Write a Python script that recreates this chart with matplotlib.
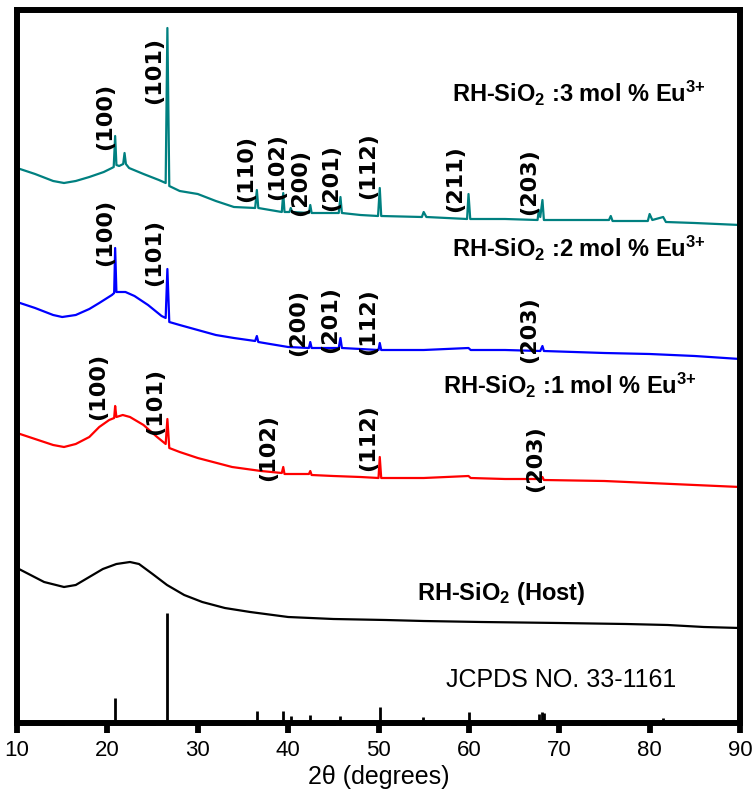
import matplotlib
matplotlib.use("Agg")
import matplotlib.pyplot as plt

plt.rcParams['mathtext.fontset'] = 'custom'
plt.rcParams['mathtext.rm'] = 'Liberation Sans'
plt.rcParams['mathtext.bf'] = 'Liberation Sans:bold'
plt.rcParams['mathtext.it'] = 'Liberation Sans:italic'

# ---------------- data (2theta in degrees, intensity in a.u., stacked) ----------------
eu3_x = [10.0, 12.0, 14.0, 15.2, 16.5, 18.0, 19.6, 20.5, 20.7, 20.86, 21.0, 21.3, 21.75, 21.9, 22.05,
         22.4, 24.0, 25.7, 26.45, 26.64, 26.85, 28.0, 30.0, 32.0, 34.0, 36.35, 36.54, 36.7, 38.0,
         39.3, 39.46, 39.6, 40.15, 40.29, 40.45, 42.3, 42.45, 42.6, 45.6, 45.79, 45.95, 48.0,
         49.95, 50.14, 50.3, 54.8, 55.0, 55.3, 59.8, 59.96, 60.15, 64.0, 67.6, 67.74, 67.9, 68.14,
         68.3, 73.0, 75.5, 75.7, 75.9, 79.8, 80.0, 80.3, 81.5, 81.8, 85.0, 90.0]
eu3_y = [552, 546, 539, 537, 539, 543, 548, 552, 553, 584, 555, 554, 556, 567, 556,
         552, 546, 540, 537, 692, 534, 529, 526, 519, 513, 512, 530, 512, 510,
         508, 527, 508, 508, 512, 508, 507, 515, 507, 507, 523, 507, 505,
         504, 532, 504, 503, 508, 503, 501, 526, 501, 501, 500, 510, 503, 520,
         500, 500, 500, 504, 499, 499, 506, 500, 503, 498, 497, 495]

eu2_x = [10.0, 12.0, 14.0, 15.0, 16.5, 18.0, 19.1, 20.5, 20.75, 20.86, 21.0, 21.5, 22.0, 23.0,
         24.5, 26.0, 26.45, 26.64, 26.85, 28.0, 30.0, 32.0, 34.0, 36.35, 36.54, 36.7, 38.0, 40.0,
         42.3, 42.45, 42.6, 45.6, 45.79, 45.95, 48.0, 50.0, 50.14, 50.3, 55.0, 59.96, 60.2,
         64.0, 67.9, 68.14, 68.3, 75.0, 80.0, 85.0, 90.0]
eu2_y = [418, 412, 405, 403, 405, 411, 417, 425, 427, 472, 428, 428, 428, 424,
         415, 404, 402, 451, 398, 395, 390, 385, 382, 379, 384, 378, 376, 373,
         372, 378, 372, 372, 382, 372, 371, 370, 377, 370, 370, 372, 370,
         370, 369, 374, 369, 367, 366, 364, 361]

eu1_x = [10.0, 12.0, 14.0, 15.2, 16.5, 18.0, 19.1, 20.2, 20.75, 20.86, 21.0, 21.7, 22.5, 24.0,
         25.5, 26.45, 26.64, 26.85, 28.0, 30.0, 33.8, 37.0, 39.3, 39.46, 39.6, 42.3, 42.45, 42.6,
         45.0, 48.0, 50.0, 50.14, 50.3, 55.0, 59.96, 60.2, 64.0, 68.0, 68.14, 68.3, 75.0, 80.0,
         85.0, 90.0]
eu1_y = [287, 281, 275, 273, 276, 283, 293, 300, 302, 314, 303, 305, 303, 295,
         283, 276, 301, 272, 268, 262, 253, 249, 247, 253, 246, 246, 249, 245,
         244, 243, 242, 263, 242, 242, 244, 242, 241, 241, 243, 240, 239, 237,
         235, 233]

host_x = [10.0, 11.5, 13.0, 15.2, 16.5, 18.0, 19.5, 21.0, 22.5, 23.5, 25.0, 26.6, 28.5, 30.5,
          33.0, 35.8, 40.0, 45.0, 50.8, 55.0, 61.4, 70.0, 77.4, 82.0, 86.0, 90.0]
host_y = [152, 145, 138, 133, 135, 143, 151, 156, 158, 156, 146, 135, 125, 118,
          112, 108, 103, 101, 100, 99, 98, 97, 96, 95, 93, 92]

# JCPDS 33-1161 reference lines
ref_pos = [20.86, 26.64, 36.54, 39.46, 40.29, 42.45, 45.79, 50.14, 54.87, 59.96, 67.74, 68.14, 68.31, 81.5]
ref_int = [22, 107, 9, 9, 4, 5, 4, 13, 3, 8, 6, 8, 7, 2]

# (hkl) annotations: label, 2theta position of text, intensity position of text
hkl_eu3 = [("(100)", 19.74, 604), ("(101)", 25.16, 649), ("(110)", 35.34, 551), ("(102)", 38.77, 553),
           ("(200)", 41.31, 537), ("(201)", 44.74, 542), ("(112)", 48.84, 554), ("(211)", 58.46, 541),
           ("(203)", 66.65, 538)]
hkl_eu2 = [("(100)", 19.74, 488), ("(101)", 25.16, 467), ("(200)", 41.09, 398), ("(201)", 44.63, 400),
           ("(112)", 48.84, 398), ("(203)", 66.65, 390)]
hkl_eu1 = [("(100)", 18.96, 334), ("(101)", 25.27, 319), ("(102)", 37.77, 272), ("(112)", 48.84, 282),
           ("(203)", 67.32, 261)]

sample_labels = [r'RH-SiO$_{\mathbf{2}}$ :3 mol % Eu$^{\mathbf{3{+}}}$',
                 r'RH-SiO$_{\mathbf{2}}$ :2 mol % Eu$^{\mathbf{3{+}}}$',
                 r'RH-SiO$_{\mathbf{2}}$ :1 mol % Eu$^{\mathbf{3{+}}}$',
                 r'RH-SiO$_{\mathbf{2}}$ (Host)']
sample_label_pos = [(58.13, 618), (58.13, 463), (57.14, 326), (54.26, 120)]
xticks = [10, 20, 30, 40, 50, 60, 70, 80, 90]

# ---------------- figure ----------------
fig = plt.figure(figsize=(7.54, 8.0), dpi=100)
ax = fig.add_axes([17 / 754, 1 - 723 / 800, 723 / 754, 713 / 800])

ax.plot(eu3_x, eu3_y, color='#008080', lw=1.6)
ax.plot(eu2_x, eu2_y, color='#0000ff', lw=1.6)
ax.plot(eu1_x, eu1_y, color='#ff0000', lw=1.6)
ax.plot(host_x, host_y, color='black', lw=1.6)
ax.vlines(ref_pos, 0, ref_int, color='black', lw=2.0)

for group in (hkl_eu3, hkl_eu2, hkl_eu1):
    for lab, xx, yy in group:
        ax.text(xx, yy, lab, rotation=90, ha='center', va='center', fontsize=16,
                fontweight='bold', family='DejaVu Sans')

for lab, (xx, yy) in zip(sample_labels, sample_label_pos):
    ax.text(xx, yy, lab, ha='left', va='baseline', fontsize=17, fontweight='bold',
            family='Liberation Sans')

ax.text(57.47, 40, 'JCPDS NO. 33-1161', ha='left', va='center', fontsize=18,
        family='Liberation Sans')

ax.set_xlim(10, 90)
ax.set_ylim(-3, 710)
ax.set_yticks([])
ax.set_xticks(xticks)
ax.set_xticks([15, 25, 35, 45, 55, 65, 75, 85], minor=True)
ax.set_xticklabels([str(t) for t in xticks], fontsize=16, family='Liberation Sans')
ax.tick_params(axis='x', which='major', direction='out', length=7, width=4.2, pad=5)
ax.tick_params(axis='x', which='minor', direction='out', length=2, width=4.2)
for s in ax.spines.values():
    s.set_linewidth(4.3)
ax.set_xlabel('2θ (degrees)', fontsize=18, family='Liberation Sans', labelpad=3)

fig.savefig('out.png', dpi=100)
